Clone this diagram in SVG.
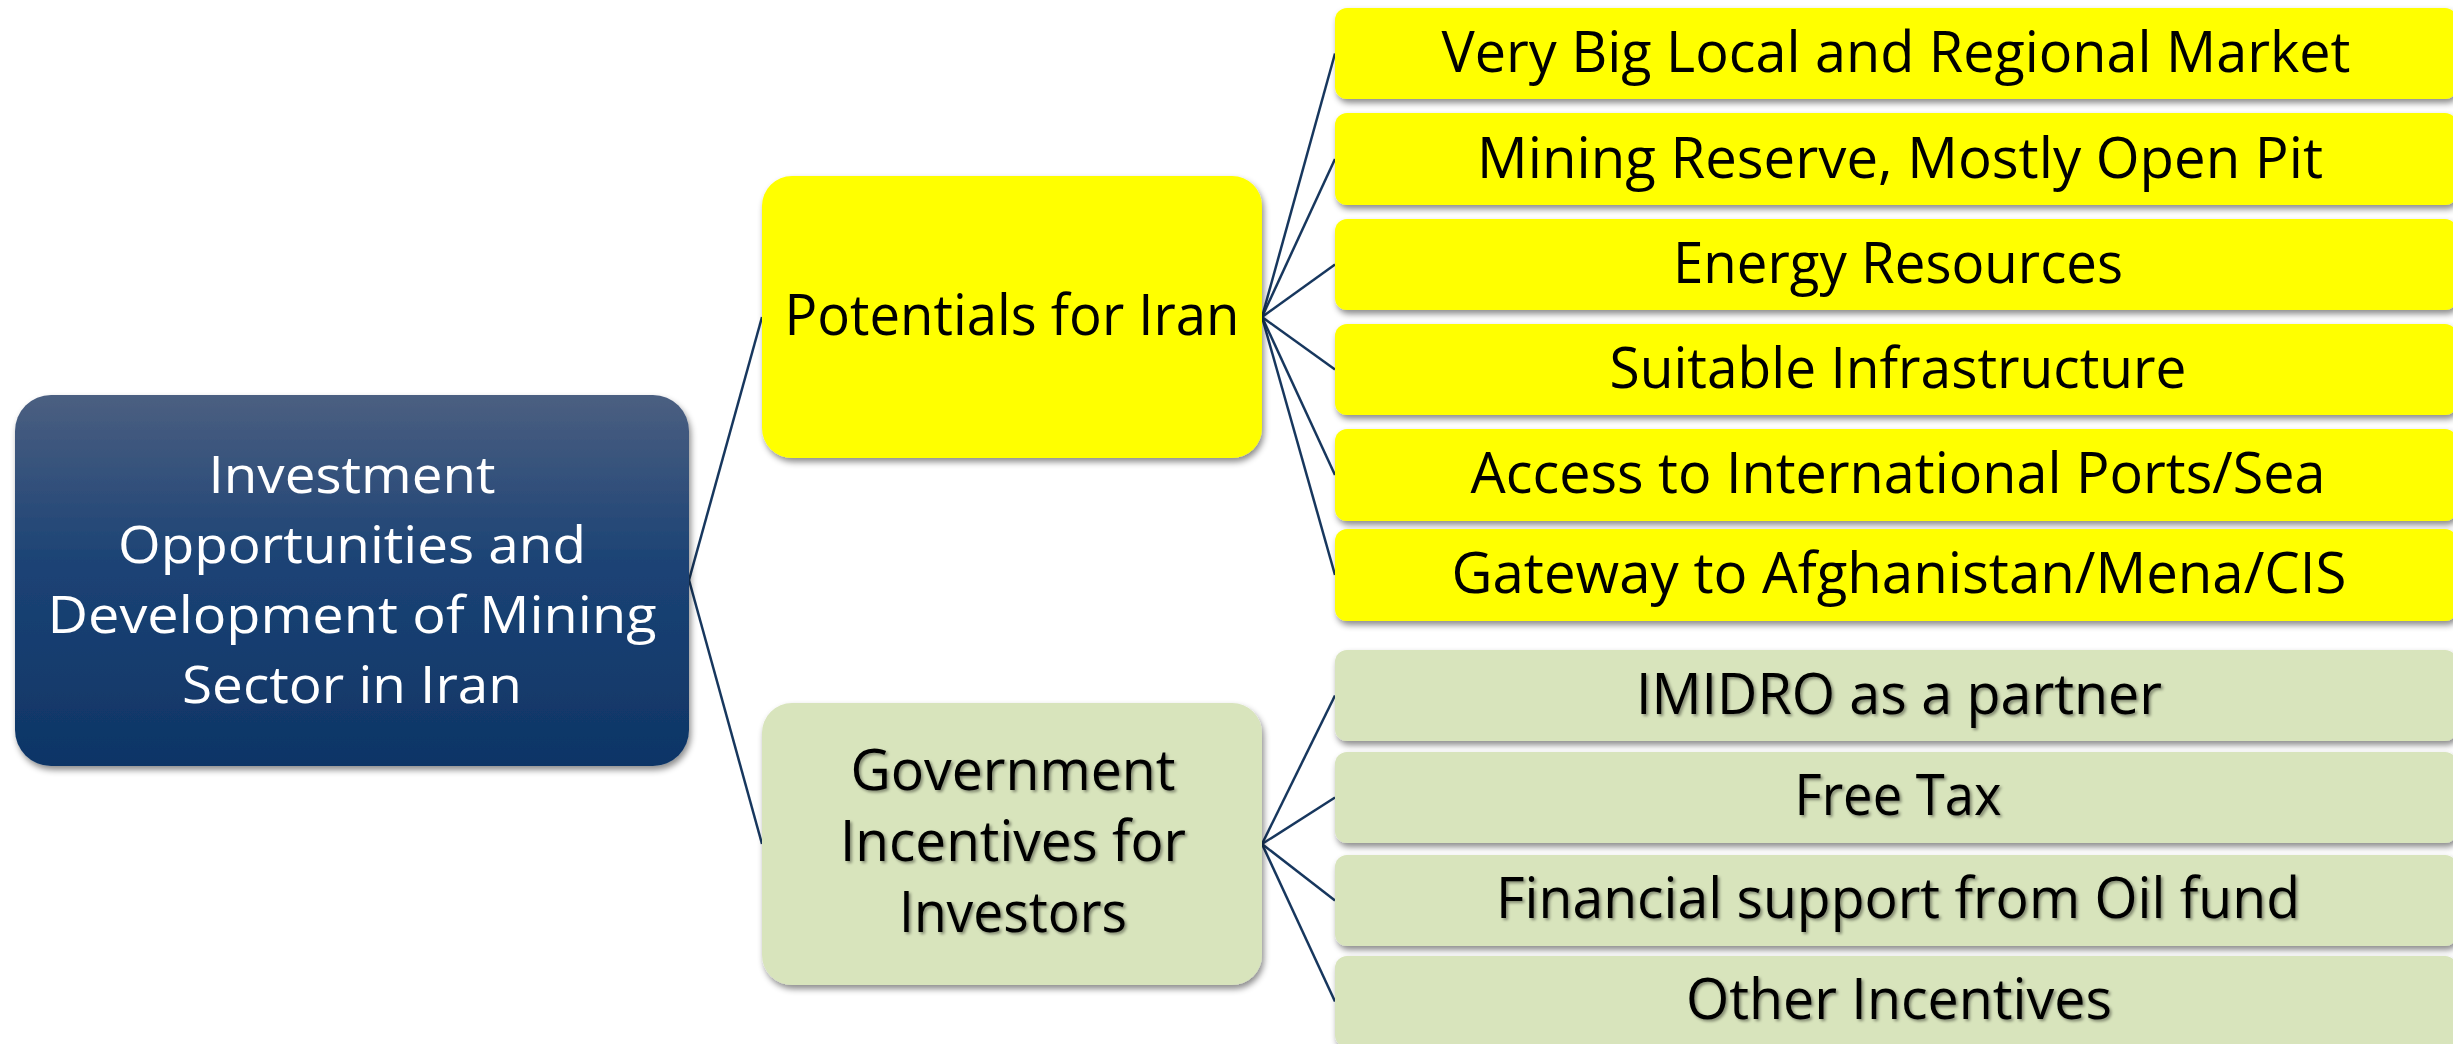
<svg xmlns="http://www.w3.org/2000/svg" width="2453" height="1044" viewBox="0 0 2453 1044">
  <style>
    .t { font-family: "Open Sans", "Liberation Sans", sans-serif; text-anchor: middle; }
    .leaf { font-size: 57px; fill: #000; }
    .mid { font-size: 56px; fill: #000; }
    .root { font-size: 52px; fill: #fff; }
    .yel { fill: #ffff00; }
    .grn { fill: #d8e4bc; }
    .conn { stroke: #17375e; stroke-width: 2.5; fill: none; }
  </style>
  <defs>
    <linearGradient id="rootGrad" x1="0" y1="0" x2="0" y2="1">
      <stop offset="0" stop-color="#4b5f81"/>
      <stop offset="0.45" stop-color="#1c4375"/>
      <stop offset="1" stop-color="#0e3566"/>
    </linearGradient>
    <filter id="boxShadow" x="-5%" y="-10%" width="115%" height="130%">
      <feDropShadow dx="2" dy="4" stdDeviation="3" flood-color="#000" flood-opacity="0.45"/>
    </filter>
    <filter id="textShadow" x="-5%" y="-20%" width="110%" height="140%">
      <feDropShadow dx="2" dy="2" stdDeviation="1.5" flood-color="#000" flood-opacity="0.4"/>
    </filter>
  </defs>

  <rect width="2453" height="1044" fill="#ffffff"/>

  <g id="connectors">
    <line class="conn" x1="689" y1="580" x2="762" y2="317"/>
    <line class="conn" x1="689" y1="580" x2="762" y2="844"/>
    <line class="conn" x1="1262" y1="317" x2="1335" y2="53.5"/>
    <line class="conn" x1="1262" y1="317" x2="1335" y2="159"/>
    <line class="conn" x1="1262" y1="317" x2="1335" y2="264.5"/>
    <line class="conn" x1="1262" y1="317" x2="1335" y2="369.5"/>
    <line class="conn" x1="1262" y1="317" x2="1335" y2="475"/>
    <line class="conn" x1="1262" y1="317" x2="1335" y2="575"/>
    <line class="conn" x1="1262" y1="844" x2="1335" y2="695.5"/>
    <line class="conn" x1="1262" y1="844" x2="1335" y2="797.5"/>
    <line class="conn" x1="1262" y1="844" x2="1335" y2="900.5"/>
    <line class="conn" x1="1262" y1="844" x2="1335" y2="1001.5"/>
  </g>

  <g id="root">
    <rect x="15" y="395" width="674" height="371" rx="36" fill="url(#rootGrad)" filter="url(#boxShadow)"/>
    <text class="t root" x="352" y="493" textLength="287" lengthAdjust="spacingAndGlyphs">Investment</text>
    <text class="t root" x="352" y="563" textLength="468" lengthAdjust="spacingAndGlyphs">Opportunities and</text>
    <text class="t root" x="352" y="633" textLength="609" lengthAdjust="spacingAndGlyphs">Development of Mining</text>
    <text class="t root" x="352" y="703" textLength="340" lengthAdjust="spacingAndGlyphs">Sector in Iran</text>
  </g>

  <g id="potentials">
    <rect class="yel" x="762" y="176" width="500" height="282" rx="30" filter="url(#boxShadow)"/>
    <text class="t mid" x="1012" y="335" textLength="455" lengthAdjust="spacingAndGlyphs">Potentials for Iran</text>
  </g>

  <g id="government">
    <rect class="grn" x="762" y="703" width="500" height="282" rx="30" filter="url(#boxShadow)"/>
    <g filter="url(#textShadow)">
      <text class="t mid" x="1013" y="790" textLength="325" lengthAdjust="spacingAndGlyphs">Government</text>
      <text class="t mid" x="1013" y="861" textLength="346" lengthAdjust="spacingAndGlyphs">Incentives for</text>
      <text class="t mid" x="1013" y="932" textLength="228" lengthAdjust="spacingAndGlyphs">Investors</text>
    </g>
  </g>

  <g id="leaf-market">
    <rect class="yel" x="1335" y="8" width="1122" height="91" rx="12" filter="url(#boxShadow)"/>
    <text class="t leaf" x="1896" y="72" textLength="909" lengthAdjust="spacingAndGlyphs">Very Big Local and Regional Market</text>
  </g>
  <g id="leaf-mining">
    <rect class="yel" x="1335" y="113" width="1122" height="92" rx="12" filter="url(#boxShadow)"/>
    <text class="t leaf" x="1900" y="178" textLength="846" lengthAdjust="spacingAndGlyphs">Mining Reserve, Mostly Open Pit</text>
  </g>
  <g id="leaf-energy">
    <rect class="yel" x="1335" y="219" width="1122" height="91" rx="12" filter="url(#boxShadow)"/>
    <text class="t leaf" x="1898" y="283" textLength="450" lengthAdjust="spacingAndGlyphs">Energy Resources</text>
  </g>
  <g id="leaf-infra">
    <rect class="yel" x="1335" y="324" width="1122" height="91" rx="12" filter="url(#boxShadow)"/>
    <text class="t leaf" x="1898" y="388" textLength="577" lengthAdjust="spacingAndGlyphs">Suitable Infrastructure</text>
  </g>
  <g id="leaf-ports">
    <rect class="yel" x="1335" y="429" width="1122" height="92" rx="12" filter="url(#boxShadow)"/>
    <text class="t leaf" x="1898" y="493" textLength="855" lengthAdjust="spacingAndGlyphs">Access to International Ports/Sea</text>
  </g>
  <g id="leaf-gateway">
    <rect class="yel" x="1335" y="529" width="1122" height="92" rx="12" filter="url(#boxShadow)"/>
    <text class="t leaf" x="1899" y="593" textLength="895" lengthAdjust="spacingAndGlyphs">Gateway to Afghanistan/Mena/CIS</text>
  </g>

  <g id="leaf-imidro">
    <rect class="grn" x="1335" y="650" width="1122" height="91" rx="12" filter="url(#boxShadow)"/>
    <text class="t leaf" x="1899" y="714" textLength="526" lengthAdjust="spacingAndGlyphs" filter="url(#textShadow)">IMIDRO as a partner</text>
  </g>
  <g id="leaf-tax">
    <rect class="grn" x="1335" y="752" width="1122" height="91" rx="12" filter="url(#boxShadow)"/>
    <text class="t leaf" x="1898" y="815" textLength="207" lengthAdjust="spacingAndGlyphs" filter="url(#textShadow)">Free Tax</text>
  </g>
  <g id="leaf-oilfund">
    <rect class="grn" x="1335" y="855" width="1122" height="91" rx="12" filter="url(#boxShadow)"/>
    <text class="t leaf" x="1898" y="918" textLength="804" lengthAdjust="spacingAndGlyphs" filter="url(#textShadow)">Financial support from Oil fund</text>
  </g>
  <g id="leaf-other">
    <rect class="grn" x="1335" y="956" width="1122" height="91" rx="12" filter="url(#boxShadow)"/>
    <text class="t leaf" x="1899" y="1019" textLength="426" lengthAdjust="spacingAndGlyphs" filter="url(#textShadow)">Other Incentives</text>
  </g>
</svg>
